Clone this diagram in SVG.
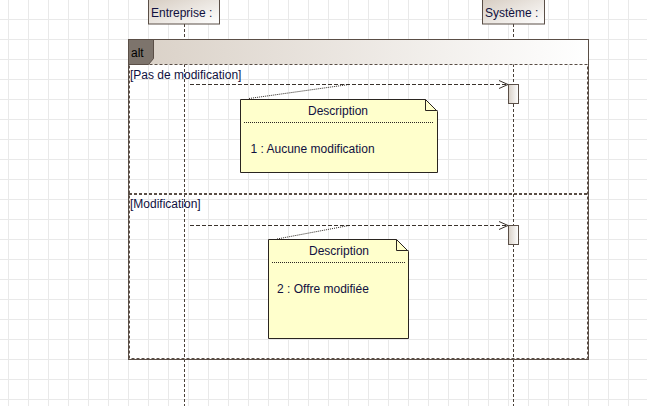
<svg xmlns="http://www.w3.org/2000/svg" width="647" height="406" viewBox="0 0 647 406">
<defs>
<pattern id="grid" x="8" y="19" width="20" height="20" patternUnits="userSpaceOnUse">
<path d="M0.5 0 V20 M0 0.5 H20" fill="none" stroke="#e9e9e9" stroke-width="1"/>
</pattern>
<linearGradient id="head" x1="0" y1="0" x2="1" y2="1">
<stop offset="0" stop-color="#d6ccc1"/>
<stop offset="1" stop-color="#ffffff"/>
</linearGradient>
<linearGradient id="band" x1="0" y1="0" x2="1" y2="0">
<stop offset="0" stop-color="#d9d0c6"/>
<stop offset="1" stop-color="#ffffff"/>
</linearGradient>
<linearGradient id="act" x1="0" y1="0" x2="1" y2="0">
<stop offset="0" stop-color="#d8d0c7"/>
<stop offset="1" stop-color="#ffffff"/>
</linearGradient>
<marker id="open" markerWidth="12" markerHeight="10" refX="10" refY="5" orient="auto" markerUnits="userSpaceOnUse">
<path d="M1 1 L10 5 L1 9" fill="none" stroke="#3a322c" stroke-width="1"/>
</marker>
</defs>
<style>
text{font-family:"Liberation Sans",Arial,sans-serif;font-size:12px;fill:#101040}
.life{stroke:#4a4038;stroke-width:1;stroke-dasharray:3 2;fill:none}
.msg{stroke:#3a322c;stroke-width:1;stroke-dasharray:4 2;fill:none}
.note{fill:#ffffcc;stroke:#2a2520;stroke-width:1}
.dot{stroke:#2a2520;stroke-width:1;stroke-dasharray:1 1;fill:none}
.act{fill:url(#act);stroke:#5a4e46;stroke-width:1}
.hd{fill:url(#head);stroke:#5a4e46;stroke-width:1}
</style>
<rect width="647" height="406" fill="#ffffff"/>
<rect width="647" height="406" fill="url(#grid)"/>

<g id="lifelines">
<line class="life" x1="184.5" y1="24" x2="184.5" y2="406"/>
<line class="life" x1="513.5" y1="24" x2="513.5" y2="406"/>
</g>

<g id="entreprise">
<rect class="hd" x="148.5" y="-1" width="71" height="25"/>
<text x="151" y="17">Entreprise :</text>
</g>
<g id="systeme">
<rect class="hd" x="482.5" y="-1" width="62" height="25"/>
<text x="485" y="17">Système :</text>
</g>

<g id="alt-fragment">
<rect x="128.5" y="39.5" width="460" height="25" fill="url(#band)" stroke="none"/>
<rect x="128.5" y="39.5" width="460" height="320" fill="none" stroke="#5a4e46" stroke-width="1"/>
<rect x="129.5" y="64.5" width="458" height="294" fill="none" stroke="#5a4e46" stroke-width="1" stroke-dasharray="3 2"/>
<polygon points="128.5,39.5 153.5,39.5 153.5,58.5 148.5,64.5 128.5,64.5" fill="#7d746c" stroke="#5a4e46" stroke-width="1"/>
<text x="131" y="57" style="fill:#000000">alt</text>
<line x1="129" y1="194" x2="588" y2="194" stroke="#5a4e46" stroke-width="2" stroke-dasharray="3 2"/>
<text x="130" y="79">[Pas de modification]</text>
<text x="130" y="208">[Modification]</text>
</g>

<g id="activations">
<rect class="act" x="508.5" y="84.5" width="10" height="19"/>
<rect class="act" x="508.5" y="225.5" width="10" height="19"/>
</g>

<g id="connectors">
<line class="msg" x1="190" y1="84.5" x2="508" y2="84.5" marker-end="url(#open)"/>
<line class="msg" x1="190" y1="225.5" x2="508" y2="225.5" marker-end="url(#open)"/>
<line class="dot" x1="249" y1="98.5" x2="349" y2="84.5"/>
<line class="dot" x1="277" y1="239" x2="349" y2="225.5"/>
</g>

<g id="note1">
<path class="note" d="M240.5 99.5 H425.5 L437.5 111.5 V172.5 H240.5 Z"/>
<path d="M425.5 99.5 V110.5 H437.5" fill="none" stroke="#2a2520" stroke-width="1"/>
<text x="338" y="115" text-anchor="middle">Description</text>
<line x1="244" y1="122.5" x2="434" y2="122.5" stroke="#2a2520" stroke-width="1" stroke-dasharray="1 1"/>
<text x="250.5" y="153">1 : Aucune modification</text>
</g>

<g id="note2">
<path class="note" d="M268.5 239.5 H396.5 L408.5 251.5 V338.5 H268.5 Z"/>
<path d="M396.5 239.5 V250.5 H408.5" fill="none" stroke="#2a2520" stroke-width="1"/>
<text x="339" y="255" text-anchor="middle">Description</text>
<line x1="272" y1="262.5" x2="405" y2="262.5" stroke="#2a2520" stroke-width="1" stroke-dasharray="1 1"/>
<text x="277" y="293">2 : Offre modifiée</text>
</g>
</svg>
